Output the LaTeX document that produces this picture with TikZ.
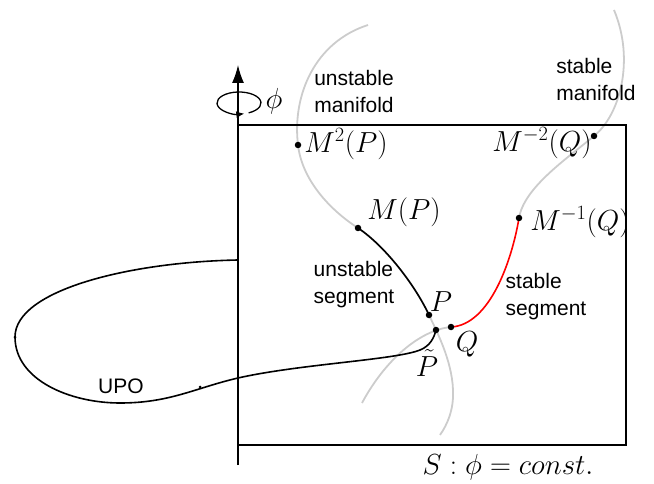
\RequirePackage{fix-cm}
\documentclass[tikz,border=0pt]{standalone}
\usepackage{fontspec}
\setsansfont{Liberation Sans}
\usetikzlibrary{arrows.meta}

\begin{document}
\begin{tikzpicture}[x=1pt,y=-1pt,>={Latex[length=18pt,width=12pt]},
  man/.style={line width=1.8pt,gray!40},
  seg/.style={line width=1.6pt},
  dot/.style={circle,fill,inner sep=0pt,minimum size=6.5pt},
  tick/.style={circle,fill,inner sep=0pt,minimum size=3pt},
  txt/.style={font=\sffamily\fontsize{21}{27}\selectfont,align=left,inner sep=0pt},
  mth/.style={font=\fontsize{29}{32}\selectfont,inner sep=0pt}]
\useasboundingbox (0,0) rectangle (654,484);

% points on the section
\coordinate (Pt) at (436,330);
\coordinate (P) at (429,315);
\coordinate (Q) at (451,327);
\coordinate (MP) at (358,228);
\coordinate (M2P) at (298,145);
\coordinate (MiQ) at (519,218);
\coordinate (M2iQ) at (594,136);
\coordinate (ax0) at (238,465);
\coordinate (ax1) at (238,65);
\coordinate (up) at (238,260);
\coordinate (tip) at (15,337);
\coordinate (low) at (120,403);
\coordinate (cross) at (238,378);

% manifolds
\draw[man] (368,25) .. controls (315,42) and (292,95) .. (M2P)
  .. controls (302,180) and (330,210) .. (MP)
  .. controls (385,246) and (415,285) .. (P)
  .. controls (436,330) and (452,360) .. (453,390)
  .. controls (454,410) and (447,425) .. (440,435);
\draw[man] (Q) .. controls (420,330) and (385,360) .. (362,403);
\draw[man] (MiQ) .. controls (524,188) and (565,160) .. (M2iQ)
  .. controls (620,115) and (635,60) .. (614,10);

% orbit
\draw[seg] (up) .. controls (130,262) and (15,290) .. (tip)
  .. controls (15,380) and (70,403) .. (low)
  .. controls (170,403) and (195,388) .. (cross)
  .. controls (300,364) and (395,360) .. (420,350)
  .. controls (430,346) and (434,338) .. (Pt);
\node[tick] (t1) at (tip) {};
\node[tick] (t2) at (200,387) {};

% segments
\draw[seg] (MP) .. controls (385,246) and (415,285) .. (P);
\draw[seg,red] (Q) .. controls (490,325) and (512,260) .. (MiQ);

\node[dot] (dP) at (P) {};
\node[dot] (dPt) at (Pt) {};
\node[dot] (dQ) at (Q) {};
\node[dot] (dMP) at (MP) {};
\node[dot] (dM2P) at (M2P) {};
\node[dot] (dMiQ) at (MiQ) {};
\node[dot] (dM2iQ) at (M2iQ) {};

% section and axis
\draw[line width=1.5pt] (238,125) rectangle (626,445);
\draw[line width=1.5pt,->] (ax0) -- (ax1);
\draw[line width=1.3pt,-{Latex[length=8pt,width=7pt]}] (239,103) ++(64:22 and 11) arc[start angle=64,end angle=-284,x radius=22,y radius=11];

% labels
\node[mth] (phi) at (274,101) {$\phi$};
\node[txt] (um) at (354,91) {unstable\\manifold};
\node[txt] (sm) at (596,79) {stable\\manifold};
\node[mth] (lM2P) at (346,144) {$M^2(P)$};
\node[mth] (lM2iQ) at (542,143) {$M^{-2}(Q)$};
\node[mth] (lMP) at (404,212) {$M(P)$};
\node[mth] (lMiQ) at (580,222) {$M^{-1}(Q)$};
\node[txt] (us) at (354,285) {unstable\\segment};
\node[txt] (ss) at (546,297) {stable\\segment};
\node[mth] (lP) at (441,302) {$P$};
\node[mth] (lQ) at (467,344) {$Q$};
\node[mth] (lPt) at (427,363) {$\tilde P$};
\node[txt] (upo) at (121,386) {UPO};
\node[mth] (sec) at (508,467) {$S:\phi=const.$};
\end{tikzpicture}
\end{document}
